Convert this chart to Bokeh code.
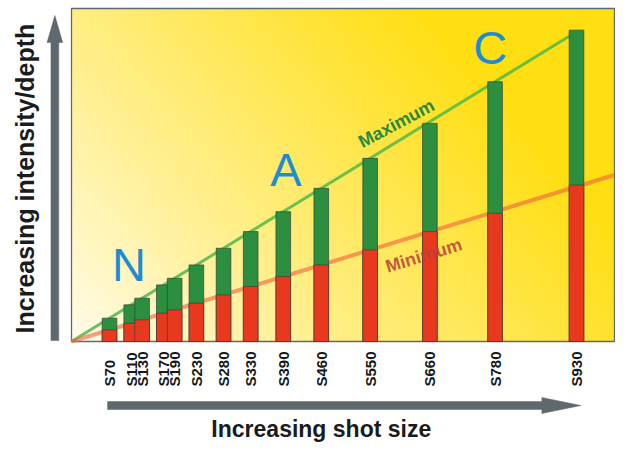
import numpy as np
from bokeh.plotting import figure
from bokeh.models import Range1d
from bokeh.core.properties import value
from bokeh.embed import file_html
from bokeh.resources import INLINE

# ---------------- data ----------------
shot_sizes = [70, 110, 130, 170, 190, 230, 280, 330, 390, 460, 550, 660, 780, 930]
shot_labels = ["S70", "S110", "S130", "S170", "S190", "S230", "S280", "S330",
               "S390", "S460", "S550", "S660", "S780", "S930"]
max_depth = [7, 11, 13, 17, 19, 23, 28, 33, 39, 46, 55, 65.5, 78, 93.5]
min_depth = [3.5, 5.5, 6.5, 8.5, 9.5, 11.5, 14, 16.5, 19.5, 23, 27.5, 33, 38.5, 47]
max_line_x = [0, 930]
max_line_y = [0, 93]
min_line_x = [0, 1000]
min_line_y = [0, 50]
zone_names = ["N", "A", "C"]
zone_x = [106, 395, 771]
zone_y = [23.1, 51.7, 88.3]

# ---------------- geometry ----------------
W, H = 615, 443
FL, FR, FB, FT = 71, 614, 341, 8          # frame edges in page px
kx = (FR - FL) / 1000.0
ky = (FB - FT) / 100.0
XS = -FL / kx
XE = XS + W / kx
YE = 100 + FT / ky
YS = YE - H / ky


def X(sx):  # reference px -> data x
    return (sx - 71.05) / 0.5564


def Yi(iy):  # page px -> data y
    return YE - iy / ky


p = figure(width=W, height=H, x_range=Range1d(XS, XE), y_range=Range1d(YS, YE),
           output_backend="svg", toolbar_location=None, x_axis_type=None,
           y_axis_type=None, title=None, min_border=0, min_border_left=0,
           min_border_right=0, min_border_top=0, min_border_bottom=0)
p.outline_line_color = None
p.background_fill_color = "white"
p.border_fill_color = "white"
p.grid.visible = False

# background gradient of the plot area
nx, ny = 560, 340
u = np.linspace(0, 1, nx)[None, :]
v = np.linspace(0, 1, ny)[:, None]
t = np.clip(0.85 * u + 0.45 * v, 0, 1) ** 0.9
c0 = np.array([255, 252, 236], dtype=float)
c1 = np.array([255, 222, 18], dtype=float)
img = np.empty((ny, nx), dtype=np.uint32)
view = img.view(dtype=np.uint8).reshape((ny, nx, 4))
for k in range(3):
    view[:, :, k] = np.round(c0[k] + (c1[k] - c0[k]) * t).astype(np.uint8)
view[:, :, 3] = 255
p.image_rgba(image=[img], x=0, y=0, dw=1000, dh=100)
p.quad(left=0, right=1000, bottom=0, top=100, fill_color=None,
       line_color="#5b6b72", line_width=1.3)

# trend lines
p.line(max_line_x, max_line_y, line_color="#4fb84a", line_width=3, line_alpha=0.85)
p.line(min_line_x, min_line_y, line_color="#f0603a", line_width=4, line_alpha=0.6)

# bars: full green (max) then red (min) on top
p.vbar(x=shot_sizes, width=27, bottom=0, top=max_depth, fill_color="#2c8f3f",
       line_color="#33403a", line_width=0.7)
p.vbar(x=shot_sizes, width=27, bottom=0, top=min_depth, fill_color="#e8391f",
       line_color="#4a3a30", line_width=0.7)

# line names
p.text(x=[X(404)], y=[Yi(123)], text=["Maximum"], angle=np.deg2rad(28),
       text_align="center", text_baseline="middle", text_color="#2a8a3c",
       text_font=value("Liberation Sans"), text_font_style="bold",
       text_font_size="18px")
p.text(x=[X(432)], y=[Yi(255)], text=["Minimum"], angle=np.deg2rad(17),
       text_align="center", text_baseline="middle", text_color="#bb3f36",
       text_alpha=0.85, text_font=value("Liberation Sans"), text_font_style="bold",
       text_font_size="18px")

# zone letters
p.text(x=zone_x, y=zone_y, text=zone_names, text_align="center",
       text_baseline="middle", text_color="#1e8cd2",
       text_font=value("Liberation Sans"), text_font_size="47px")

# tick labels
p.text(x=shot_sizes, y=[Yi(386)] * len(shot_sizes), text=shot_labels,
       angle=np.pi / 2, text_align="left", text_baseline="middle",
       text_color="#15191c", text_font=value("Liberation Sans"),
       text_font_style="bold", text_font_size="15px")

arrow_col = "#5f686c"
# vertical arrow
cx, hw, hh = 54, 4, 8
vx = [X(cx - hw), X(cx - hw), X(cx - hh), X(cx), X(cx + hh), X(cx + hw), X(cx + hw)]
vy = [Yi(340), Yi(42), Yi(42), Yi(15), Yi(42), Yi(42), Yi(340)]
p.patch(vx, vy, fill_color=arrow_col, line_color=arrow_col, line_width=0.5)
# horizontal arrow
cy = 405
hx = [X(108), X(553), X(553), X(593), X(553), X(553), X(108)]
hy = [Yi(cy - hw), Yi(cy - hw), Yi(cy - hh), Yi(cy), Yi(cy + hh), Yi(cy + hw), Yi(cy + hw)]
p.patch(hx, hy, fill_color=arrow_col, line_color=arrow_col, line_width=0.5)

# axis titles
p.text(x=[X(327)], y=[Yi(428)], text=["Increasing shot size"], text_align="center",
       text_baseline="middle", text_color="#1b1b1b",
       text_font=value("Liberation Sans"), text_font_style="bold",
       text_font_size="23px")
p.text(x=[X(23)], y=[Yi(178)], text=["Increasing intensity/depth"], angle=np.pi / 2,
       text_align="center", text_baseline="middle", text_color="#1b1b1b",
       text_font=value("Liberation Sans"), text_font_style="bold",
       text_font_size="25px")

open("out.html", "w").write(file_html(p, INLINE))
